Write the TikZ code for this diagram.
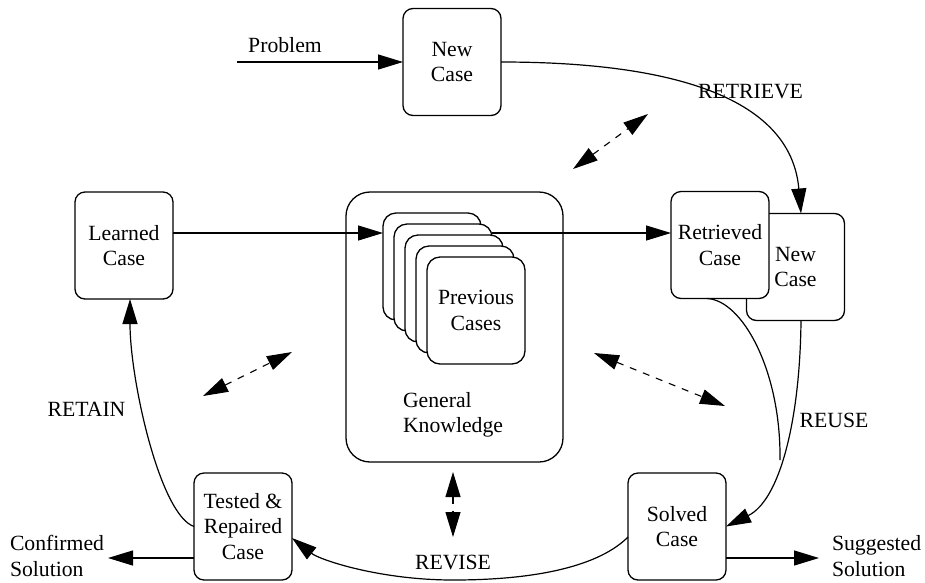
\documentclass[tikz,border=0pt]{standalone}
\usepackage{fontspec}
\setmainfont{Liberation Serif}
\usetikzlibrary{arrows.meta,positioning}

\begin{document}
\begin{tikzpicture}[x=1pt,y=1pt]
    \tikzstyle{every node}+=[inner sep=0pt, outer sep=0pt, align=center, font=\rmfamily\fontsize{21.7}{25.5}\selectfont]
    \tikzstyle{box}=[draw, fill=white, line width=1.3pt, rounded corners=10pt, minimum width=98pt, minimum height=107pt]
    \tikzstyle{card}=[box, rounded corners=13pt]
    \tikzstyle{arr}=[line width=1.2pt, -{Triangle[length=25pt,width=15pt]}]
    \tikzstyle{link}=[line width=1.1pt, dash pattern=on 7pt off 7pt, {Triangle[length=25pt,width=15pt]}-{Triangle[length=25pt,width=15pt]}]
    \useasboundingbox (0,0) rectangle (925,-582);

    % general knowledge with the case base
    \node [box, rounded corners=24pt, minimum width=217pt, minimum height=270pt] (gk) at (454.5,-327) {};
    \node [anchor=west, align=left] (gktext) at (403,-415) {General\\Knowledge};
    \foreach \i in {1,...,4}
        \node [card] (card\i) at ({432+11*(\i-1)},{-266.5-11*(\i-1)}) {};
    \node [card] (card5) at (476,-310.5) {Previous\\Cases};

    % the cases
    \node [box] (newcase) at (452,-62) {New\\Case};
    \node [box] (learned) at (124,-245.5) {Learned\\Case};
    \node [box] (newcase2) at (795.5,-267) {New\\Case};
    \node [box] (retrieved) at (720,-245) {Retrieved\\Case};
    \node [box] (solved) at (677,-526.5) {Solved\\Case};
    \node [box] (tested) at (243,-526.5) {Tested \&\\Repaired\\Case};

    % free ends
    \coordinate (problem) at (237,-62);
    \coordinate (confirmed) at (108,-558);
    \coordinate (suggested) at (819,-558);
    \coordinate (row) at (0,-233);
    \coordinate (join) at (780,-460);
    \coordinate (revbot) at (453,-580);

    % in and out
    \node (problemlabel) at (285,-45) {Problem};
    \draw [arr] (problem) -- (newcase.west);
    \draw [arr] (tested.west |- confirmed) -- (confirmed);
    \node [anchor=west, align=left] (confirmedlabel) at (10,-556) {Confirmed\\Solution};
    \draw [arr] (solved.east |- suggested) -- (suggested);
    \node [anchor=west, align=left] (suggestedlabel) at (832,-556) {Suggested\\Solution};

    % the cycle
    \draw [arr] (newcase.east) to [out=0, in=95] ([xshift=5.5pt]newcase2.north);
    \node (retrievelabel) at (750.5,-91.5) {RETRIEVE};
    \draw [line width=1.2pt] ([xshift=-13pt]retrieved.south) .. controls (742,-300) and (781,-370) .. (join);
    \draw [arr] ([xshift=5.5pt]newcase2.south) .. controls (800,-420) and (780,-500) .. (solved.east);
    \node (reuselabel) at (834,-420) {REUSE};
    \draw [arr] ([yshift=-10.5pt]solved.west) .. controls (600,-565) and (540,-580) .. (revbot)
        .. controls (380,-580) and (320,-560) .. ([yshift=-11.5pt]tested.east);
    \node (reviselabel) at (453,-562) {REVISE};
    \draw [arr] (tested.west) .. controls (160,-515) and (130,-380) .. ([xshift=6pt]learned.south);
    \node (retainlabel) at (86.5,-409.5) {RETAIN};
    \draw [arr] (learned.east |- row) -- (card1.west |- row);
    \draw [arr] (card2.east |- row) -- (retrieved.west |- row);

    % links to general knowledge
    \coordinate (ta) at (573,-169);
    \coordinate (tb) at (648,-114);
    \coordinate (la) at (203,-396);
    \coordinate (lb) at (292,-352);
    \coordinate (ra) at (594,-353);
    \coordinate (rb) at (725,-406);
    \coordinate (ba) at (453,-472);
    \coordinate (bb) at (453,-537);
    \draw [link] (ta) -- (tb);
    \draw [link] (la) -- (lb);
    \draw [link] (ra) -- (rb);
    \draw [link] (ba) -- (bb);
\end{tikzpicture}
\end{document}
